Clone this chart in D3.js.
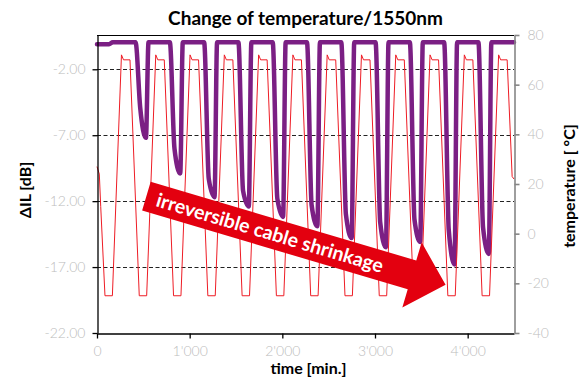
<!DOCTYPE html>
<html>
<head>
<meta charset="utf-8">
<script src="https://cdn.jsdelivr.net/npm/d3@7"></script>
<style>
body { margin: 0; background: #fff; }
svg text { font-family: Lato, "Open Sans", sans-serif; }
</style>
</head>
<body>
<svg id="chart" width="582" height="383"></svg>
<script>
var timeTicks = [0, 1000, 2000, 3000, 4000];
var ilTicks = [-22, -17, -12, -7, -2];
var gridTicks = [-17, -12, -7, -2];
var tempTicks = [-40, -20, 0, 20, 40, 60, 80];

// [time in min., temperature in °C]
var tempPoints = [
	[0, 27], [25, 24], [40, 11],
	[86, -25], [166, -25], [264, 72], [286, 70], [356, 70],
	[456, -25], [536, -25], [634, 72], [656, 70], [726, 70],
	[826, -25], [906, -25], [1004, 72], [1026, 70], [1096, 70],
	[1196, -25], [1276, -25], [1374, 72], [1396, 70], [1466, 70],
	[1566, -25], [1646, -25], [1744, 72], [1766, 70], [1836, 70],
	[1936, -25], [2016, -25], [2114, 72], [2136, 70], [2206, 70],
	[2306, -25], [2386, -25], [2484, 72], [2506, 70], [2576, 70],
	[2676, -25], [2756, -25], [2854, 72], [2876, 70], [2946, 70],
	[3046, -25], [3126, -25], [3224, 72], [3246, 70], [3316, 70],
	[3416, -25], [3496, -25], [3594, 72], [3616, 70], [3686, 70],
	[3786, -25], [3866, -25], [3964, 72], [3986, 70], [4056, 70],
	[4156, -25], [4236, -25], [4334, 72], [4356, 70], [4426, 70],
	[4480, 23], [4500, 22]
];

// [time in min., delta IL in dB]
var ilPoints = [
	[0, -0.1], [130, -0.1], [170, 0.05],
	[416, 0.05], [466, -4.9], [528, -7.2], [556, 0.05],
	[786, 0.05], [836, -8.0], [898, -9.9], [926, 0.05],
	[1156, 0.05], [1206, -10.3], [1268, -11.7], [1296, 0.05],
	[1526, 0.05], [1576, -11.2], [1638, -12.4], [1666, 0.05],
	[1896, 0.05], [1946, -11.8], [2008, -13.2], [2036, 0.05],
	[2266, 0.05], [2316, -12.3], [2378, -13.9], [2406, 0.05],
	[2636, 0.05], [2686, -13.0], [2748, -14.8], [2776, 0.05],
	[3006, 0.05], [3056, -13.6], [3118, -15.5], [3146, 0.05],
	[3376, 0.05], [3426, -13.4], [3488, -15.1], [3516, 0.05],
	[3746, 0.05], [3796, -14.2], [3858, -16.8], [3886, 0.05],
	[4116, 0.05], [4166, -14.0], [4228, -16.0], [4256, 0.05],
	[4500, 0.05]
];

var plot = {left: 97, right: 514, top: 35, bottom: 333};

var svg = d3.select("#chart");

var locale = d3.formatLocale({decimal: ".", thousands: "'", grouping: [3], currency: ["", ""], minus: "-"});

var x = d3.scaleLinear().domain([0, 4500]).range([plot.left, plot.right]);
var yIL = d3.scaleLinear().domain([-22, 0.6]).range([plot.bottom, plot.top]);
var yTemp = d3.scaleLinear().domain([-40, 80]).range([plot.bottom, plot.top]);

// dashed grid on the IL axis
svg.append("g")
	.selectAll("line")
	.data(gridTicks)
	.enter().append("line")
	.attr("x1", plot.left)
	.attr("x2", plot.right)
	.attr("y1", function(d) { return Math.round(yIL(d)) + 0.5; })
	.attr("y2", function(d) { return Math.round(yIL(d)) + 0.5; })
	.attr("stroke", "#222")
	.attr("stroke-width", 1)
	.attr("stroke-dasharray", "4,2.5");

// top border
svg.append("line")
	.attr("x1", plot.left).attr("x2", plot.right)
	.attr("y1", plot.top + 0.5).attr("y2", plot.top + 0.5)
	.attr("stroke", "#000");

var ilLine = d3.line()
	.curve(d3.curveMonotoneX)
	.x(function(d) { return x(d[0]); })
	.y(function(d) { return yIL(d[1]); });

var tempLine = d3.line()
	.x(function(d) { return x(d[0]); })
	.y(function(d) { return yTemp(d[1]); });

svg.append("path")
	.datum(ilPoints)
	.attr("d", ilLine)
	.attr("fill", "none")
	.attr("stroke", "#7b1f84")
	.attr("stroke-width", 4.5)
	.attr("stroke-linejoin", "round")
	.attr("stroke-linecap", "round");

svg.append("path")
	.datum(tempPoints)
	.attr("d", tempLine)
	.attr("fill", "none")
	.attr("stroke", "#ee1c25")
	.attr("stroke-width", 1);

// axes
var gLeft = svg.append("g")
	.attr("transform", "translate(" + (plot.left + 0.5) + ",0)")
	.call(d3.axisLeft(yIL).tickValues(ilTicks).tickSize(5).tickSizeOuter(0).tickPadding(7)
		.tickFormat(locale.format(".2f")));

var gBottom = svg.append("g")
	.attr("transform", "translate(0," + (plot.bottom + 0.5) + ")")
	.call(d3.axisBottom(x).tickValues(timeTicks).tickSize(5).tickSizeOuter(0).tickPadding(8)
		.tickFormat(locale.format(",")));

var gRight = svg.append("g")
	.attr("transform", "translate(" + (plot.right + 0.5) + ",0)")
	.call(d3.axisRight(yTemp).tickValues(tempTicks).tickSize(5).tickSizeOuter(0).tickPadding(8)
		.tickFormat(locale.format("d")));

[gLeft, gBottom].forEach(function(g) {
	g.selectAll(".domain, .tick line").attr("stroke", "#000").attr("stroke-width", 1.3);
});
gRight.selectAll(".domain, .tick line").attr("stroke", "#868686").attr("stroke-width", 1.6);

svg.selectAll(".tick text")
	.attr("fill", "#bdbdbd")
	.style("font-size", "14px")
	.style("font-weight", 300)
	.style("font-family", "Lato, sans-serif");

// titles
svg.append("text")
	.attr("x", (plot.left + plot.right) / 2)
	.attr("y", 25)
	.attr("text-anchor", "middle")
	.style("font-size", "19px")
	.style("font-weight", "bold")
	.text("Change of temperature/1550nm");

svg.append("text")
	.attr("x", (plot.left + plot.right) / 2 + 3)
	.attr("y", 374)
	.attr("text-anchor", "middle")
	.style("font-size", "16px")
	.style("font-weight", "bold")
	.text("time [min.]");

svg.append("text")
	.attr("transform", "translate(31,190) rotate(-90)")
	.attr("text-anchor", "middle")
	.style("font-size", "16px")
	.style("font-weight", "bold")
	.text("ΔIL [dB]");

svg.append("text")
	.attr("transform", "translate(575,186) rotate(-90)")
	.attr("text-anchor", "middle")
	.style("font-size", "16px")
	.style("font-weight", "bold")
	.text("temperature [ °C]");

// annotation arrow
var arrow = svg.append("g")
	.attr("transform", "translate(146.4,196.2) rotate(16.5)");

var shaftLen = 277, tipLen = 312, halfShaft = 15, halfHead = 34;
arrow.append("path")
	.attr("d", d3.line()([
		[0, -halfShaft], [shaftLen, -halfShaft], [shaftLen, -halfHead], [tipLen, 0],
		[shaftLen, halfHead], [shaftLen, halfShaft], [0, halfShaft]
	]) + "Z")
	.attr("fill", "#e3000f");

arrow.append("text")
	.attr("x", 11)
	.attr("y", 7)
	.attr("fill", "#fff")
	.style("font-size", "19.5px")
	.style("font-weight", "bold")
	.text("irreversible cable shrinkage");
</script>
</body>
</html>
